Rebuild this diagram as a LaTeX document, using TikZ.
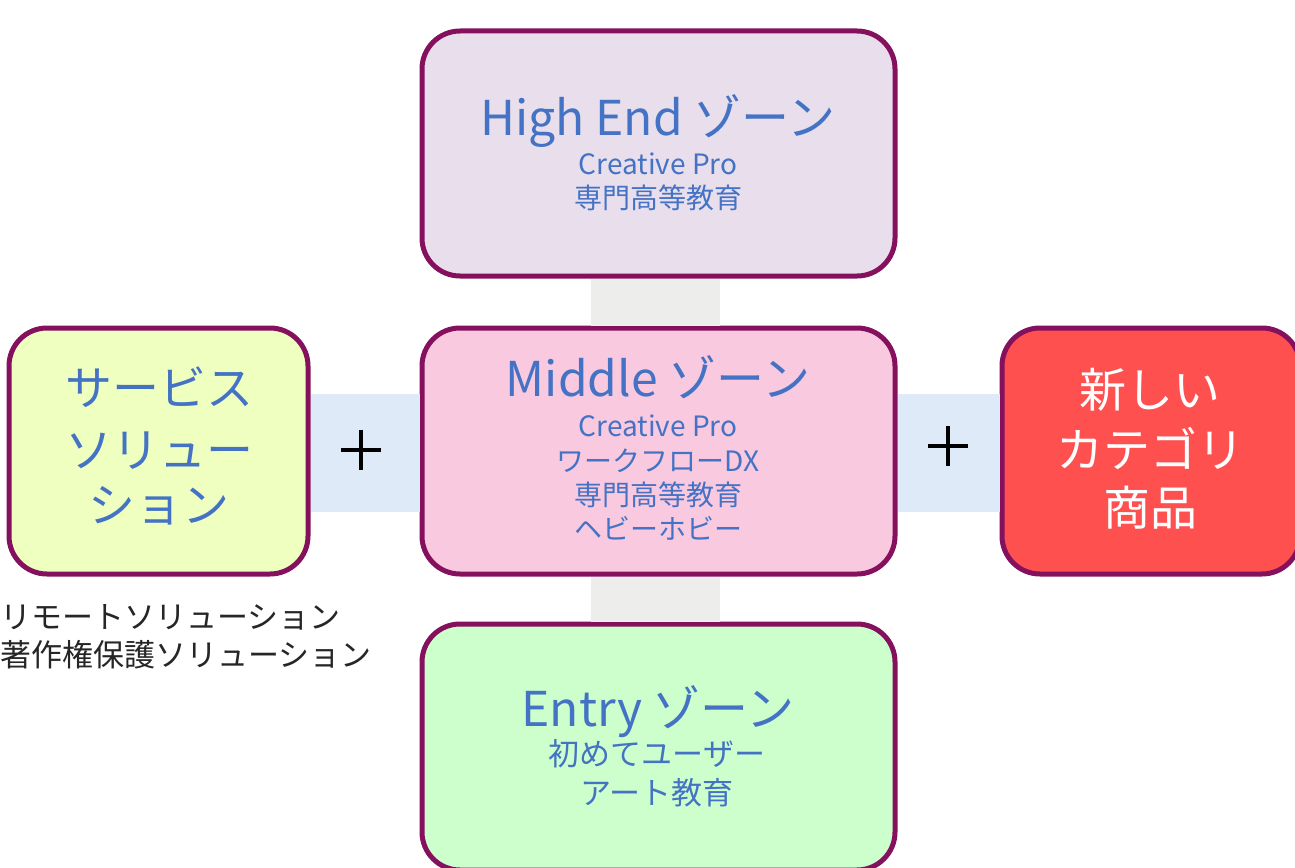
\documentclass[tikz,border=0pt]{standalone}
\usepackage{fontspec}
\setmainfont{Noto Sans CJK JP}
\definecolor{bordc}{HTML}{85105E}
\definecolor{txtblue}{HTML}{4472C4}
\definecolor{fillhigh}{HTML}{E8DEEC}
\definecolor{fillmid}{HTML}{F9C9E0}
\definecolor{fillentry}{HTML}{CCFFCC}
\definecolor{fillsvc}{HTML}{EEFFC0}
\definecolor{fillnew}{HTML}{FF5050}
\definecolor{barg}{HTML}{EDEDEB}
\definecolor{barb}{HTML}{DEEAF7}
\tikzset{
  zonebox/.style={draw=bordc, line width=5pt, rounded corners=38pt, inner sep=0pt},
  ttl/.style={anchor=base, text=txtblue, font=\fontsize{48}{58}\selectfont, inner sep=0pt},
  sub/.style={anchor=base, text=txtblue, font=\fontsize{28}{34}\selectfont, inner sep=0pt},
  subE/.style={anchor=base, text=txtblue, font=\fontsize{31}{36}\selectfont, inner sep=0pt},
  side/.style={anchor=base, font=\fontsize{47}{56}\selectfont, inner sep=0pt},
  note/.style={anchor=base west, text=black!85, font=\fontsize{31}{38}\selectfont, inner sep=0pt},
  grayconn/.style={draw=barg, line width=129pt},
  blueconn/.style={draw=barb, line width=118pt},
  plusmark/.style={draw=black, line width=4pt}
}
\begin{document}
\begin{tikzpicture}[x=1pt,y=-1pt]
\useasboundingbox (0,0) rectangle (1295,867);
\clip (0,0) rectangle (1295,867);
\fill[white] (0,0) rectangle (1295,867);
% boxes
\node[zonebox, fill=fillhigh, minimum width=473pt, minimum height=245pt] (high) at (658.5,153.5) {};
\node[zonebox, fill=fillmid, minimum width=473pt, minimum height=246pt] (mid) at (658.5,451) {};
\node[zonebox, fill=fillentry, minimum width=473pt, minimum height=246pt] (entry) at (658.5,747) {};
\node[zonebox, fill=fillsvc, minimum width=299pt, minimum height=246pt] (svc) at (158.5,451) {};
\node[zonebox, fill=fillnew, minimum width=298pt, minimum height=246pt] (newc) at (1151,451) {};
% connectors
\draw[grayconn] ([xshift=-3pt]high.south) -- ([xshift=-3pt]mid.north);
\draw[grayconn] ([xshift=-3pt]mid.south) -- ([xshift=-3pt]entry.north);
\draw[blueconn] ([yshift=-2pt]svc.east) -- ([yshift=-2pt]mid.west);
\draw[blueconn] ([yshift=-2pt]mid.east) -- ([yshift=-2pt]newc.west);
% plus signs
\coordinate (p1) at (361,450);
\coordinate (p2) at (948,446);
\draw[plusmark] ([xshift=-20pt]p1) -- ([xshift=20pt]p1);
\draw[plusmark] ([yshift=-20pt]p1) -- ([yshift=20pt]p1);
\draw[plusmark] ([xshift=-20pt]p2) -- ([xshift=20pt]p2);
\draw[plusmark] ([yshift=-20pt]p2) -- ([yshift=20pt]p2);
% High End texts
\node[ttl] (h1) at (658,135) {High End ゾーン};
\node[sub] (h2) at (658,174) {Creative Pro};
\node[sub] (h3) at (658,208) {専門高等教育};
% Middle texts
\node[ttl] (m1) at (658,396) {Middle ゾーン};
\node[sub] (m2) at (658,436) {Creative Pro};
\node[sub] (m3) at (658,471) {ワークフローDX};
\node[sub] (m4) at (658,505) {専門高等教育};
\node[sub] (m5) at (658,539) {ヘビーホビー};
% Entry texts
\node[ttl] (e1) at (658,726) {Entry ゾーン};
\node[subE] (e2) at (657,765) {初めてユーザー};
\node[subE] (e3) at (657,804) {アート教育};
% Service texts
\node[side, text=txtblue] (s1) at (159,405) {サービス};
\node[side, text=txtblue] (s2) at (159,467) {ソリュー};
\node[side, text=txtblue] (s3) at (159,522) {ション};
% New category
\node[side, text=white] (n1) at (1150,407) {新しい};
\node[side, text=white] (n2) at (1150,467) {カテゴリ};
\node[side, text=white] (n3) at (1150,525) {商品};
% notes
\node[note] (r1) at (0,628) {リモートソリューション};
\node[note] (r2) at (0,666) {著作権保護ソリューション};
\end{tikzpicture}
\end{document}
